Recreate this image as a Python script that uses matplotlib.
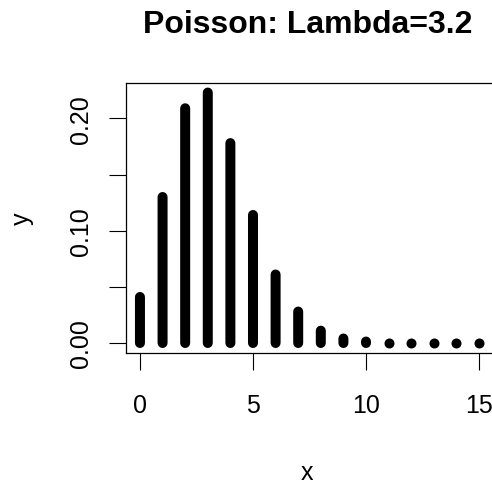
import matplotlib
matplotlib.use("Agg")
import matplotlib.pyplot as plt

# Poisson probabilities for lambda = 3.2, k = 0..15
k = list(range(16))
prob = [0.041, 0.130, 0.209, 0.223, 0.178, 0.114, 0.061, 0.028,
        0.011, 0.004, 0.0013, 0.0004, 0.0001, 0.0, 0.0, 0.0]
xticks = [0, 5, 10, 15]
yticks = [0.00, 0.05, 0.10, 0.15, 0.20]
ylabels = ["0.00", "", "0.10", "", "0.20"]

plt.rcParams['font.family'] = ['Liberation Sans', 'DejaVu Sans']

W, H = 492, 485
fig = plt.figure(figsize=(W / 100, H / 100), dpi=100)
ax = fig.add_axes([126.4 / W, 1 - 354 / H, 366.2 / W, 270 / H])

# type="h" style spikes with round ends
lw = 7.2
for x, y in zip(k, prob):
    if y > 0.001:
        ax.plot([x, x], [0, y], color='black', lw=lw,
                solid_capstyle='round', snap=False)
    else:
        # too short to show as a line: just the round end
        ax.plot([x], [y], 'o', color='black', ms=lw, mew=0)

ax.set_xlim(-0.6, 15.6)
ax.set_ylim(-0.0089, 0.2315)
ax.set_xticks(xticks)
ax.set_yticks(yticks)
ax.set_yticklabels(ylabels, rotation=90, va='center')
ax.tick_params(axis='both', direction='out', length=12, width=0.8,
               labelsize=18, colors='black')
ax.tick_params(axis='x', pad=17)
ax.tick_params(axis='y', pad=12)
for s in ax.spines.values():
    s.set_linewidth(0.9)

fig.text(308 / W, 1 - 33 / H, "Poisson: Lambda=3.2", ha='center',
         va='baseline', fontsize=23, fontweight='bold')
fig.text(307 / W, 1 - 480 / H, "x", ha='center', va='baseline', fontsize=18)
fig.text(22 / W, 1 - 219 / H, "y", ha='center', va='center', fontsize=18,
         rotation=90)

fig.savefig("out.png", dpi=100)
